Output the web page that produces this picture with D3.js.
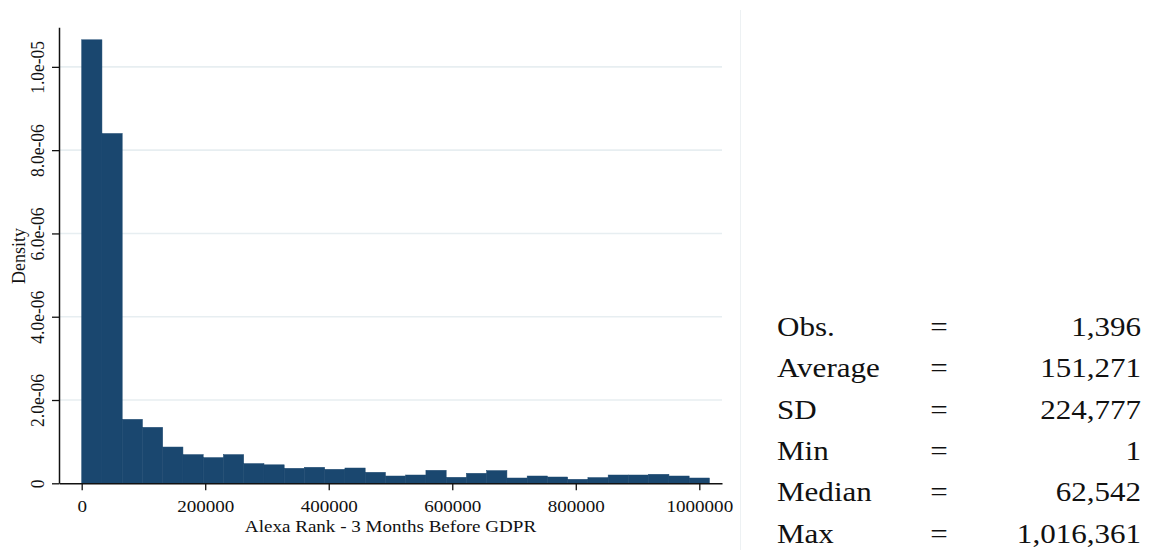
<!DOCTYPE html>
<html>
<head>
<meta charset="utf-8">
<script src="https://cdn.jsdelivr.net/npm/d3@7"></script>
<style>
  html, body { margin: 0; padding: 0; background: #fff; }
  svg { display: block; font-family: "Liberation Serif", "Times New Roman", serif; }
</style>
</head>
<body>
<svg id="chart" width="1151" height="550"></svg>
<script>
// Histogram of Alexa rank (31 equal-width bins between min and max), density scale
const densities = [
  10.65e-6, 8.40e-6, 1.536e-6, 1.344e-6, 0.871e-6, 0.689e-6, 0.617e-6, 0.689e-6,
  0.473e-6, 0.444e-6, 0.360e-6, 0.384e-6, 0.336e-6, 0.367e-6, 0.264e-6, 0.175e-6,
  0.199e-6, 0.312e-6, 0.144e-6, 0.240e-6, 0.305e-6, 0.127e-6, 0.175e-6, 0.151e-6,
  0.096e-6, 0.137e-6, 0.199e-6, 0.199e-6, 0.216e-6, 0.175e-6, 0.127e-6
];
const rankMin = 1;
const rankMax = 1016361;

const xTicks = [0, 200000, 400000, 600000, 800000, 1000000];
const xTickLabels = ["0", "200000", "400000", "600000", "800000", "1000000"];
const yTicks = [0, 2e-6, 4e-6, 6e-6, 8e-6, 1e-5];
const yTickLabels = ["0", "2.0e-06", "4.0e-06", "6.0e-06", "8.0e-06", "1.0e-05"];

const xTitle = "Alexa Rank - 3 Months Before GDPR";
const yTitle = "Density";

const statNames = ["Obs.", "Average", "SD", "Min", "Median", "Max"];
const statValues = ["1,396", "151,271", "224,777", "1", "62,542", "1,016,361"];

const svg = d3.select("#chart");
const ink = "#111";
const barFill = "#1a476f";
const gridColor = "#e7eef1";

// plot frame
const plotLeft = 59, plotRight = 722, plotTop = 27.3, plotBottom = 483.3;

const x = d3.scaleLinear().domain([-36750, 1036750]).range([plotLeft, plotRight]);
const y = d3.scaleLinear().domain([0, 1.095e-5]).range([plotBottom, plotTop]);

// horizontal grid lines (not at zero)
svg.append("g")
  .selectAll("line")
  .data(yTicks.filter(d => d > 0))
  .join("line")
  .attr("x1", plotLeft).attr("x2", plotRight)
  .attr("y1", d => y(d)).attr("y2", d => y(d))
  .attr("stroke", gridColor)
  .attr("stroke-width", 1.6);

// bars
const nBins = densities.length;
const binWidth = (rankMax - rankMin) / nBins;
const bins = densities.map((d, i) => ({
  x0: rankMin + i * binWidth,
  x1: rankMin + (i + 1) * binWidth,
  density: d
}));

svg.append("g")
  .selectAll("rect")
  .data(bins)
  .join("rect")
  .attr("x", d => x(d.x0))
  .attr("width", d => x(d.x1) - x(d.x0))
  .attr("y", d => y(d.density))
  .attr("height", d => y(0) - y(d.density))
  .attr("fill", barFill)
  .attr("stroke", barFill)
  .attr("stroke-width", 0.5);

// x axis
const xAxis = d3.axisBottom(x)
  .tickValues(xTicks)
  .tickFormat((d, i) => xTickLabels[i])
  .tickSize(7)
  .tickSizeOuter(0);

const gx = svg.append("g")
  .attr("transform", `translate(0,${plotBottom})`)
  .call(xAxis);
gx.select(".domain").attr("stroke", ink).attr("stroke-width", 1.5);
gx.selectAll(".tick line").attr("stroke", ink).attr("stroke-width", 1.3);
gx.selectAll(".tick text")
  .attr("y", 29.2).attr("dy", null)
  .attr("transform", "scale(1.09,1)")
  .attr("font-size", 17.5)
  .attr("font-family", "Liberation Serif, Times New Roman, serif")
  .attr("fill", ink);

// y axis
const yAxis = d3.axisLeft(y)
  .tickValues(yTicks)
  .tickFormat((d, i) => yTickLabels[i])
  .tickSize(7)
  .tickSizeOuter(0);

const gy = svg.append("g")
  .attr("transform", `translate(${plotLeft},0)`)
  .call(yAxis);
gy.select(".domain").attr("stroke", ink).attr("stroke-width", 1.5);
gy.selectAll(".tick line").attr("stroke", ink).attr("stroke-width", 1.3);
gy.selectAll(".tick text")
  .attr("transform", "rotate(-90) scale(1,1.08)")
  .attr("x", 0).attr("y", -13.5).attr("dy", null)
  .attr("text-anchor", "middle")
  .attr("font-size", 17.5)
  .attr("font-family", "Liberation Serif, Times New Roman, serif")
  .attr("fill", ink);

// axis titles
svg.append("text")
  .attr("transform", `translate(${(plotLeft + plotRight) / 2},531.5) scale(1.09,1)`)
  .attr("text-anchor", "middle")
  .attr("font-size", 17.5)
  .attr("fill", ink)
  .text(xTitle);

svg.append("text")
  .attr("transform", `translate(25,256) rotate(-90) scale(1,1.08)`)
  .attr("text-anchor", "middle")
  .attr("font-size", 18)
  .attr("fill", ink)
  .text(yTitle);

// separator between chart and summary panel
svg.append("line")
  .attr("x1", 740.5).attr("x2", 740.5)
  .attr("y1", 10).attr("y2", 550)
  .attr("stroke", "#edf1f3")
  .attr("stroke-width", 1);

// summary statistics
const rowY = i => 336 + 41.3 * i;
const stats = svg.append("g").attr("font-size", 27).attr("fill", ink);

stats.selectAll("text.name")
  .data(statNames)
  .join("text")
  .attr("class", "name")
  .attr("transform", (d, i) => `translate(777,${rowY(i)}) scale(1.15,1)`)
  .attr("text-anchor", "start")
  .text(d => d);

stats.selectAll("text.eq")
  .data(statNames)
  .join("text")
  .attr("class", "eq")
  .attr("transform", (d, i) => `translate(939,${rowY(i)}) scale(1.15,1)`)
  .attr("text-anchor", "middle")
  .text("=");

stats.selectAll("text.val")
  .data(statValues)
  .join("text")
  .attr("class", "val")
  .attr("transform", (d, i) => `translate(1141,${rowY(i)}) scale(1.15,1)`)
  .attr("text-anchor", "end")
  .text(d => d);
</script>
</body>
</html>
